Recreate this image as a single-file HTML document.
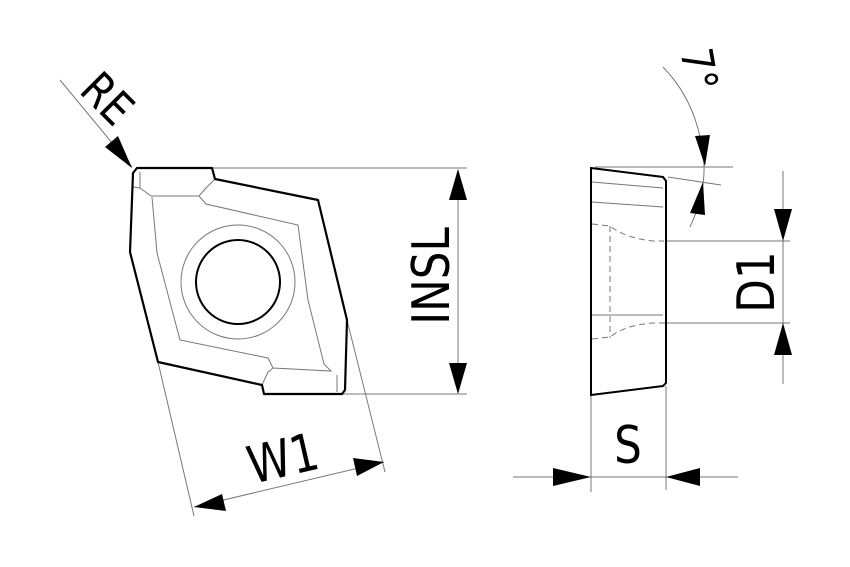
<!DOCTYPE html>
<html><head><meta charset="utf-8"><style>html,body{margin:0;padding:0;background:#fff}svg{display:block}text{font-family:"DejaVu Sans","Liberation Sans",sans-serif;fill:#000}</style></head>
<body>
<svg width="850" height="567" viewBox="0 0 850 567" xmlns="http://www.w3.org/2000/svg">
<g fill="none" stroke="#777" stroke-width="1">
<line x1="212" y1="168" x2="467" y2="168"/>
<line x1="342" y1="394" x2="467" y2="394"/>
<line x1="458" y1="170" x2="458" y2="393"/>
<line x1="158" y1="362" x2="194" y2="516"/>
<line x1="347" y1="320" x2="385" y2="472"/>
<line x1="194" y1="507" x2="384" y2="462"/>
<line x1="60" y1="80" x2="132" y2="167"/>
<path d="M133,187 L140,188 L151,196 L199,196 L206,204 L298,225 L308,300 L324,364 L331,371 L273,368 L268,358 L180,340 L157,253 L152,197"/>
<path d="M215,179 L206,188 L199,196 M262,385 L268,372 L273,368 M337,375 L337,392 M140,188 L140,172"/>
<circle cx="238" cy="282" r="57"/>
<line x1="595" y1="167" x2="733" y2="167"/>
<line x1="668" y1="177" x2="721" y2="185"/>
<line x1="666" y1="241" x2="790" y2="241"/>
<line x1="663" y1="323" x2="790" y2="323"/>
<line x1="783" y1="171" x2="783" y2="384"/>
<line x1="591" y1="395" x2="591" y2="492"/>
<line x1="666" y1="386" x2="666" y2="490"/>
<line x1="513" y1="477" x2="738" y2="477"/>
<path d="M663,67 Q700,105 704,165 Q705,195 690,227"/>
<line x1="592" y1="182" x2="663" y2="188"/>
<line x1="592" y1="202" x2="663" y2="207"/>
<line x1="592" y1="315" x2="663" y2="315"/>
<path stroke-dasharray="6,4" d="M592,224 L610,226 Q625,238 653,241 L664,241 M610,226 L610,338 M592,339 L610,337 Q625,325 653,323 L664,323"/>
</g>
<path fill="none" stroke="#000" stroke-width="2.2" stroke-linejoin="round" d="M137,168 L212,168 L215,179 L318,200 L347,320 L345,390 L342,394 L264,394 L262,385 L158,362 L130,252 L133,173 Z"/>
<circle cx="238" cy="282" r="42" fill="none" stroke="#000" stroke-width="2"/>
<path fill="none" stroke="#000" stroke-width="2" d="M591,168 L663,177 L666,181 L666,383 L663,386 L591,395 Z"/>
<g fill="#000">
<polygon points="458,169 449,200 467,200"/>
<polygon points="458,394 449,363 467,363"/>
<polygon points="194,507 222,494 226,511"/>
<polygon points="384,462 353,458 357,476"/>
<polygon points="132,168 105,147 118,136"/>
<polygon points="783,241 774,209 792,209"/>
<polygon points="783,323 774,355 792,355"/>
<polygon points="591,477 553,468 553,486"/>
<polygon points="666,477 700,468 700,486"/>
<polygon points="705,166 695,136 710,135"/>
<polygon points="703,182 690,213 705,215"/>
</g>
<text x="0" y="0" font-size="52" text-anchor="middle" transform="translate(449,276) rotate(-90) scale(0.84,1)">INSL</text>
<text x="0" y="0" font-size="52" text-anchor="middle" transform="translate(287,476) rotate(-13) scale(0.84,1)">W1</text>
<text x="0" y="0" font-size="46" text-anchor="middle" transform="translate(96,110) rotate(45) scale(0.84,1)">RE</text>
<text x="0" y="0" font-size="52" text-anchor="middle" transform="translate(774,282) rotate(-90) scale(0.84,1)">D1</text>
<text x="0" y="0" font-size="52" text-anchor="middle" transform="translate(628,463) scale(0.84,1)">S</text>
<text x="0" y="0" font-size="44" text-anchor="middle" transform="translate(684,72) rotate(80) scale(0.84,1)">7°</text>
</svg>
</body></html>
